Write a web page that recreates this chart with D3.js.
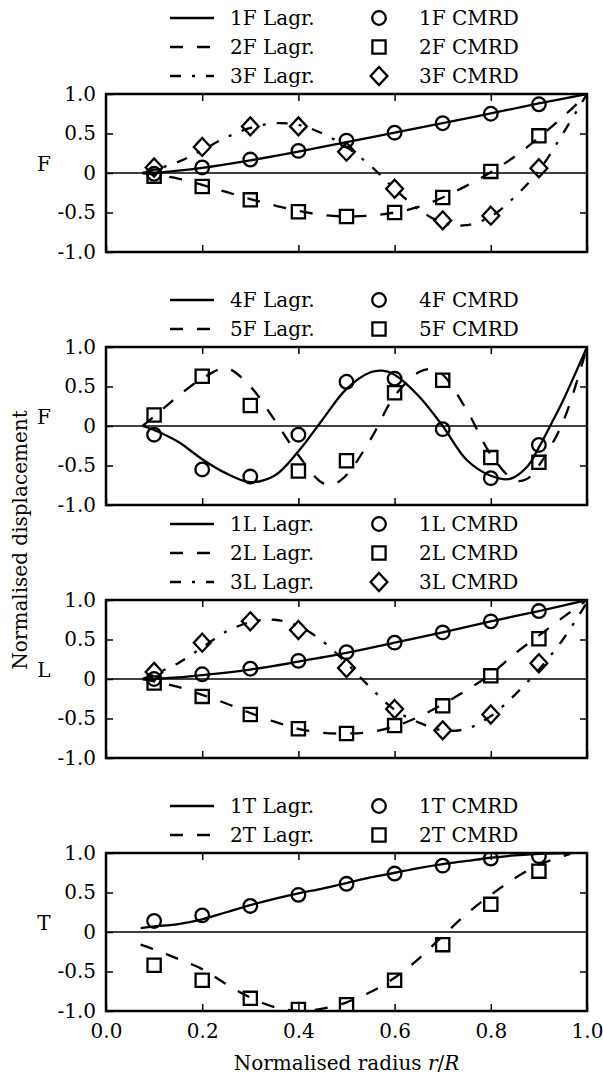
<!DOCTYPE html>
<html>
<head>
<meta charset="utf-8">
<script src="https://cdn.jsdelivr.net/npm/d3@7"></script>
<style>
body { margin: 0; background: #fff; }
text { font-family: "DejaVu Serif", "Liberation Serif", serif; fill: #000; }
</style>
</head>
<body>
<svg id="chart" width="603" height="1077"></svg>
<script>
// radial stations of the CMRD results
var rPoints = [0.1, 0.2, 0.3, 0.4, 0.5, 0.6, 0.7, 0.8, 0.9];
var xTicks = [0.0, 0.2, 0.4, 0.6, 0.8, 1.0];
var yTicks = [-1.0, -0.5, 0, 0.5, 1.0];

// flap modes
var lagr1F = [[0.076,0],[0.1,0.005],[0.15,0.03],[0.2,0.065],[0.3,0.16],[0.4,0.27],[0.5,0.39],[0.6,0.51],[0.7,0.63],[0.8,0.755],[0.9,0.88],[1.0,1.0]];
var cmrd1F = [-0.01, 0.07, 0.17, 0.28, 0.41, 0.51, 0.63, 0.75, 0.87];
var lagr2F = [[0.076,0],[0.1,-0.02],[0.15,-0.07],[0.2,-0.15],[0.25,-0.24],[0.3,-0.33],[0.35,-0.41],[0.4,-0.48],[0.45,-0.53],[0.5,-0.55],[0.55,-0.54],[0.6,-0.5],[0.65,-0.43],[0.7,-0.31],[0.75,-0.16],[0.8,0.01],[0.85,0.21],[0.9,0.45],[0.95,0.71],[1.0,1.0]];
var cmrd2F = [-0.04, -0.17, -0.34, -0.49, -0.55, -0.5, -0.31, 0.02, 0.47];
var lagr3F = [[0.076,0],[0.1,0.04],[0.15,0.14],[0.2,0.29],[0.25,0.45],[0.3,0.57],[0.35,0.63],[0.4,0.61],[0.45,0.5],[0.5,0.33],[0.55,0.09],[0.6,-0.2],[0.65,-0.46],[0.7,-0.63],[0.75,-0.66],[0.8,-0.55],[0.85,-0.3],[0.9,0.03],[0.95,0.5],[1.0,1.0]];
var cmrd3F = [0.07, 0.33, 0.59, 0.59, 0.27, -0.2, -0.6, -0.54, 0.06];
var lagr4F = [[0.076,0],[0.1,-0.05],[0.15,-0.2],[0.2,-0.42],[0.25,-0.6],[0.3,-0.71],[0.35,-0.63],[0.4,-0.32],[0.45,0.08],[0.5,0.47],[0.55,0.68],[0.575,0.7],[0.6,0.65],[0.65,0.38],[0.7,0.0],[0.75,-0.43],[0.8,-0.63],[0.84,-0.67],[0.875,-0.52],[0.9,-0.27],[0.925,0.02],[0.95,0.32],[1.0,1.0]];
var cmrd4F = [-0.11, -0.55, -0.64, -0.11, 0.56, 0.6, -0.04, -0.66, -0.24];
var lagr5F = [[0.076,0],[0.1,0.12],[0.15,0.38],[0.2,0.6],[0.25,0.73],[0.3,0.5],[0.35,0.08],[0.4,-0.37],[0.45,-0.72],[0.475,-0.73],[0.5,-0.62],[0.55,-0.17],[0.6,0.38],[0.65,0.68],[0.675,0.72],[0.7,0.65],[0.75,0.2],[0.8,-0.36],[0.85,-0.69],[0.875,-0.67],[0.9,-0.5],[0.95,0.05],[1.0,1.0]];
var cmrd5F = [0.14, 0.63, 0.26, -0.57, -0.44, 0.42, 0.58, -0.4, -0.46];

// lead-lag modes
var lagr1L = [[0.076,0],[0.1,0.002],[0.15,0.02],[0.2,0.05],[0.3,0.12],[0.4,0.22],[0.5,0.33],[0.6,0.46],[0.7,0.59],[0.8,0.73],[0.9,0.86],[1.0,1.0]];
var cmrd1L = [0.0, 0.06, 0.13, 0.23, 0.34, 0.46, 0.59, 0.73, 0.86];
var lagr2L = [[0.076,0],[0.1,-0.03],[0.15,-0.1],[0.2,-0.2],[0.25,-0.31],[0.3,-0.43],[0.35,-0.54],[0.4,-0.63],[0.45,-0.68],[0.5,-0.69],[0.55,-0.67],[0.6,-0.6],[0.65,-0.48],[0.7,-0.32],[0.75,-0.14],[0.8,0.06],[0.85,0.32],[0.9,0.55],[0.95,0.78],[1.0,1.0]];
var cmrd2L = [-0.05, -0.22, -0.45, -0.63, -0.69, -0.59, -0.34, 0.04, 0.51];
var lagr3L = [[0.076,0],[0.1,0.06],[0.15,0.2],[0.2,0.4],[0.25,0.6],[0.3,0.72],[0.35,0.75],[0.4,0.67],[0.45,0.48],[0.5,0.2],[0.55,-0.11],[0.6,-0.39],[0.65,-0.55],[0.7,-0.65],[0.75,-0.63],[0.8,-0.47],[0.85,-0.2],[0.9,0.12],[0.95,0.5],[1.0,0.97]];
var cmrd3L = [0.09, 0.46, 0.73, 0.62, 0.14, -0.38, -0.65, -0.45, 0.2];

// torsion modes
var lagr1T = [[0.072,0.05],[0.1,0.07],[0.15,0.1],[0.2,0.16],[0.25,0.25],[0.3,0.34],[0.35,0.42],[0.4,0.49],[0.45,0.55],[0.5,0.62],[0.55,0.69],[0.6,0.75],[0.65,0.81],[0.7,0.86],[0.75,0.9],[0.8,0.94],[0.85,0.97],[0.9,0.99],[0.965,1.0]];
var cmrd1T = [0.14, 0.21, 0.33, 0.47, 0.61, 0.74, 0.84, 0.93, 0.96];
var lagr2T = [[0.072,-0.16],[0.1,-0.22],[0.15,-0.34],[0.2,-0.47],[0.25,-0.66],[0.3,-0.83],[0.35,-0.95],[0.4,-1.0],[0.45,-0.97],[0.5,-0.89],[0.55,-0.76],[0.6,-0.58],[0.65,-0.34],[0.7,-0.05],[0.75,0.23],[0.8,0.47],[0.85,0.68],[0.9,0.85],[0.965,0.99]];
var cmrd2T = [-0.42, -0.61, -0.84, -0.98, -0.92, -0.61, -0.16, 0.35, 0.77];

var panels = [
    {label: "F", top: 94, series: [
        {name: "1F", lagr: lagr1F, cmrd: cmrd1F, dash: null, marker: "circle"},
        {name: "2F", lagr: lagr2F, cmrd: cmrd2F, dash: "13,14", marker: "square"},
        {name: "3F", lagr: lagr3F, cmrd: cmrd3F, dash: "11,11,3,11", marker: "diamond"}]},
    {label: "F", top: 347, series: [
        {name: "4F", lagr: lagr4F, cmrd: cmrd4F, dash: null, marker: "circle"},
        {name: "5F", lagr: lagr5F, cmrd: cmrd5F, dash: "13,14", marker: "square"}]},
    {label: "L", top: 600, series: [
        {name: "1L", lagr: lagr1L, cmrd: cmrd1L, dash: null, marker: "circle"},
        {name: "2L", lagr: lagr2L, cmrd: cmrd2L, dash: "13,14", marker: "square"},
        {name: "3L", lagr: lagr3L, cmrd: cmrd3L, dash: "11,11,3,11", marker: "diamond"}]},
    {label: "T", top: 853, series: [
        {name: "1T", lagr: lagr1T, cmrd: cmrd1T, dash: null, marker: "circle"},
        {name: "2T", lagr: lagr2T, cmrd: cmrd2T, dash: "13,14", marker: "square"}]}
];

var svg = d3.select("#chart");
var plotLeft = 106, plotRight = 587, panelH = 158;
var fontSize = 20;
var serif = "'DejaVu Serif', 'Liberation Serif', serif";

var x = d3.scaleLinear().domain([0, 1]).range([plotLeft, plotRight]);

function markerPath(type) {
    var p = d3.path();
    if (type == "circle") {
        p.arc(0, 0, 6.8, 0, 2 * Math.PI);
    } else if (type == "square") {
        p.rect(-6.6, -6.6, 13.2, 13.2);
    } else {
        p.moveTo(0, -9); p.lineTo(8.4, 0); p.lineTo(0, 9); p.lineTo(-8.4, 0); p.closePath();
    }
    return p.toString();
}

function fmtY(d) {
    return d == 0 ? "0" : d.toFixed(1);
}

panels.forEach(function (panel, pi) {
    var top = panel.top, bottom = top + panelH;
    var y = d3.scaleLinear().domain([-1, 1]).range([bottom, top]);
    var g = svg.append("g");

    svg.append("clipPath").attr("id", "clip" + pi)
        .append("rect")
        .attr("x", plotLeft).attr("y", top)
        .attr("width", plotRight - plotLeft).attr("height", panelH);

    // zero line
    g.append("line")
        .attr("x1", plotLeft).attr("x2", plotRight)
        .attr("y1", y(0)).attr("y2", y(0))
        .attr("stroke", "#000").attr("stroke-width", 1.3);

    var plot = g.append("g").attr("clip-path", "url(#clip" + pi + ")");
    var line = d3.line()
        .x(function (d) { return x(d[0]); })
        .y(function (d) { return y(d[1]); })
        .curve(d3.curveCatmullRom.alpha(0.5));

    panel.series.forEach(function (s) {
        plot.append("path")
            .attr("d", line(s.lagr))
            .attr("fill", "none")
            .attr("stroke", "#000")
            .attr("stroke-width", 2.3)
            .attr("stroke-dasharray", s.dash);

        plot.selectAll(null)
            .data(s.cmrd)
            .enter().append("path")
            .attr("d", markerPath(s.marker))
            .attr("transform", function (d, i) {
                return "translate(" + x(rPoints[i]) + "," + y(d) + ")";
            })
            .attr("fill", "none")
            .attr("stroke", "#000")
            .attr("stroke-width", 2.3);
    });

    // axes with inward ticks
    g.append("g").attr("transform", "translate(" + plotLeft + ",0)")
        .call(d3.axisLeft(y).tickValues(yTicks).tickFormat(fmtY).tickSizeInner(-7).tickSizeOuter(0).tickPadding(10));
    g.append("g").attr("transform", "translate(" + plotRight + ",0)")
        .call(d3.axisRight(y).tickValues([-0.5, 0.5]).tickFormat("").tickSizeInner(-7).tickSizeOuter(0));
    g.append("g").attr("transform", "translate(0," + top + ")")
        .call(d3.axisTop(x).tickValues([0.2, 0.4, 0.6, 0.8]).tickFormat("").tickSizeInner(-7).tickSizeOuter(0));
    g.append("g").attr("transform", "translate(0," + bottom + ")")
        .call(d3.axisBottom(x).tickValues(xTicks)
            .tickFormat(pi == panels.length - 1 ? d3.format(".1f") : "")
            .tickSizeInner(-7).tickSizeOuter(0).tickPadding(13));

    g.selectAll(".domain").remove();
    g.selectAll(".tick line").attr("stroke", "#000").attr("stroke-width", 1.5);
    g.selectAll(".tick text")
        .style("font-family", serif)
        .style("font-size", fontSize + "px")
        .attr("fill", "#000");

    // frame
    g.append("rect")
        .attr("x", plotLeft).attr("y", top)
        .attr("width", plotRight - plotLeft).attr("height", panelH)
        .attr("fill", "none").attr("stroke", "#000").attr("stroke-width", 2.5);

    // panel label
    g.append("text")
        .attr("x", 44).attr("y", y(0) - 9.5)
        .attr("text-anchor", "middle")
        .attr("dominant-baseline", "central")
        .style("font-family", serif)
        .style("font-size", fontSize + "px")
        .text(panel.label);

    // legend
    var n = panel.series.length;
    panel.series.forEach(function (s, i) {
        var ly = top - 18 - (n - 1 - i) * 29;
        var lg = svg.append("g").style("font-family", serif).style("font-size", fontSize + "px");
        lg.append("line")
            .attr("x1", 170).attr("x2", 214)
            .attr("y1", ly).attr("y2", ly)
            .attr("stroke", "#000").attr("stroke-width", 2.3)
            .attr("stroke-dasharray", s.dash);
        lg.append("text")
            .attr("x", 230).attr("y", ly)
            .attr("dominant-baseline", "central")
            .text(s.name + " Lagr.");
        lg.append("path")
            .attr("d", markerPath(s.marker))
            .attr("transform", "translate(379," + ly + ")")
            .attr("fill", "none").attr("stroke", "#000").attr("stroke-width", 2.3);
        lg.append("text")
            .attr("x", 419).attr("y", ly)
            .attr("dominant-baseline", "central")
            .text(s.name + " CMRD");
    });
});

// shared axis titles
svg.append("text")
    .attr("transform", "translate(20,540) rotate(-90)")
    .attr("text-anchor", "middle")
    .attr("dominant-baseline", "central")
    .style("font-family", serif)
    .style("font-size", fontSize + "px")
    .text("Normalised displacement");

var xl = svg.append("text")
    .attr("x", (plotLeft + plotRight) / 2).attr("y", 1063)
    .attr("text-anchor", "middle")
    .attr("dominant-baseline", "central")
    .style("font-family", serif)
    .style("font-size", fontSize + "px");
xl.append("tspan").text("Normalised radius ");
xl.append("tspan").style("font-style", "italic").text("r");
xl.append("tspan").text("/");
xl.append("tspan").style("font-style", "italic").text("R");
</script>
</body>
</html>
